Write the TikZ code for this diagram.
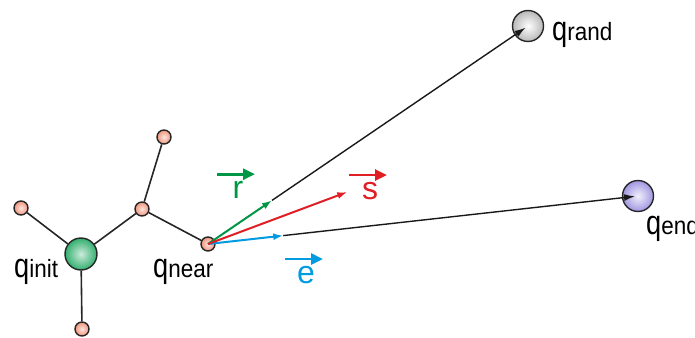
\documentclass[tikz,border=0pt]{standalone}
\usepackage{fontspec}
\setmainfont{Liberation Sans}
\newfontfamily\qfont[FakeStretch=0.8]{Liberation Sans}
\newfontfamily\subfont[FakeStretch=0.9]{Liberation Sans}
\usetikzlibrary{arrows.meta,calc}
\definecolor{salmon}{RGB}{240,150,125}
\definecolor{ballgreen}{RGB}{50,175,110}
\definecolor{lavender}{RGB}{160,150,225}
\definecolor{vgreen}{RGB}{0,150,70}
\definecolor{vred}{RGB}{225,30,35}
\definecolor{vblue}{RGB}{0,155,225}
\newcommand{\qname}[1]{{\qfont\fontsize{34}{34}\selectfont q}{\subfont\fontsize{25}{25}\selectfont #1}}

\begin{document}
\begin{tikzpicture}
[
    x=1pt, y=-1pt,
    ball/.style={draw=black!85, line width=1.4pt, circle, inner sep=0pt},
    vertex/.style={ball, minimum size=14pt, inner color=salmon!25!white, outer color=salmon},
    tree edge/.style={draw=black!85, line width=1.6pt},
    qlabel/.style={anchor=base west, inner sep=0pt},
    step arrow/.style={line width=2pt, -{Latex[length=10pt,width=7pt]}},
    long arrow/.style={line width=1.4pt, black!90, shorten >=3pt, -{Latex[length=11pt,width=7pt]}},
    veclabel/.style={inner sep=0pt, font=\fontsize{32}{32}\selectfont},
    vec arrow/.style={line width=2.8pt, -{Triangle[length=12pt,width=11pt]}}
]
    \useasboundingbox (0,0) rectangle (695,337);

    % tree
    \node [ball, minimum size=32pt, inner color=ballgreen!25!white, outer color=ballgreen] (init) at (81,254) {};
    \node [vertex] (left) at (21,208) {};
    \node [vertex] (bottom) at (82,329) {};
    \node [vertex] (mid) at (142,209) {};
    \node [vertex] (top) at (164,137) {};
    \node [vertex] (near) at (208,244) {};

    \draw [tree edge] (init) -- (left);
    \draw [tree edge] (init) -- (bottom);
    \draw [tree edge] (init) -- (mid);
    \draw [tree edge] (mid) -- (top);
    \draw [tree edge] (mid) -- (near);

    % targets
    \node [ball, minimum size=31pt, inner color=white, outer color=black!28] (rand) at (528,26) {};
    \node [ball, minimum size=31pt, inner color=lavender!15!white, outer color=lavender] (end) at (638,196) {};

    \node [qlabel] (linit) at (14,277) {\qname{init}};
    \node [qlabel] (lnear) at (153,277) {\qname{near}};
    \node [qlabel] (lrand) at (552,41) {\qname{rand}};
    \node [qlabel] (lend) at (646,234) {\qname{end}};

    % vectors
    \coordinate (rtip) at ($(near)!0.2!(rand)$);
    \coordinate (etip) at ($(near)!0.175!(end)$);
    \coordinate (stip) at ($(rtip)+(etip)-(near)$);

    \draw [long arrow] (rtip) -- (rand.center);
    \draw [long arrow] (etip) -- (end.center);
    \draw [step arrow, vgreen] (near.center) -- (rtip);
    \draw [step arrow, vblue] (near.center) -- (etip);
    \draw [step arrow, vred] (near.center) -- (stip);

    \node [veclabel, text=vgreen] (r) at (238,190) {r};
    \node [veclabel, text=vred] (s) at (370,191) {s};
    \node [veclabel, text=vblue] (e) at (306,275) {e};

    \draw [vec arrow, vgreen] ([shift={(-21pt,7pt)}]r.north) -- ([shift={(17pt,7pt)}]r.north);
    \draw [vec arrow, vred] ([shift={(-21pt,7pt)}]s.north) -- ([shift={(17pt,7pt)}]s.north);
    \draw [vec arrow, vblue] ([shift={(-21pt,7pt)}]e.north) -- ([shift={(17pt,7pt)}]e.north);
\end{tikzpicture}
\end{document}
